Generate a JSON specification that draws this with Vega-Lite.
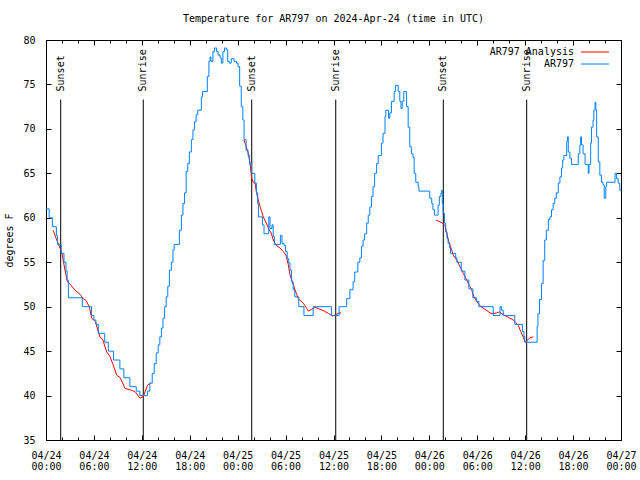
{
  "$schema": "https://vega.github.io/schema/vega-lite/v6.json",
  "width": 575,
  "height": 400,
  "autosize": "none",
  "padding": {"left": 46, "top": 40, "right": 19, "bottom": 40},
  "background": "white",
  "title": {"text": "Temperature for AR797 on 2024-Apr-24 (time in UTC)", "font": "DejaVu Sans Mono", "fontSize": 10, "fontWeight": "normal", "anchor": "middle", "offset": 11, "color": "black"},
  "datasets": {
    "obs": [
      {"h":0,"t":61},{"h":0.4,"t":60},{"h":0.8,"t":59},{"h":1.3,"t":58},{"h":1.45,"t":57},{"h":1.9,"t":56},{"h":2.25,"t":55},{"h":2.5,"t":54},{"h":2.65,"t":53},{"h":2.8,"t":51},{"h":4.55,"t":50},{"h":5.7,"t":49},{"h":6.0,"t":48.5},{"h":6.25,"t":48},{"h":6.55,"t":47},{"h":7.35,"t":46},{"h":7.8,"t":45},{"h":8.45,"t":44},{"h":9.25,"t":43},{"h":9.75,"t":42},{"h":10.5,"t":41},{"h":11.3,"t":40.5},{"h":11.75,"t":40},{"h":12.7,"t":40.5},{"h":13.0,"t":41.4},{"h":13.3,"t":42.5},{"h":13.55,"t":43.6},{"h":13.8,"t":44.8},{"h":14.05,"t":45.7},{"h":14.25,"t":46.6},{"h":14.45,"t":47.6},{"h":14.65,"t":48.7},{"h":14.85,"t":50},{"h":15.05,"t":51.1},{"h":15.25,"t":52.3},{"h":15.45,"t":54.1},{"h":15.7,"t":55},{"h":15.9,"t":56.4},{"h":16.05,"t":57},{"h":16.7,"t":58.6},{"h":16.95,"t":60.3},{"h":17.15,"t":61.6},{"h":17.35,"t":62.8},{"h":17.55,"t":65.2},{"h":17.75,"t":66.1},{"h":17.95,"t":67.4},{"h":18.2,"t":68.8},{"h":18.4,"t":69.9},{"h":18.6,"t":70.8},{"h":18.8,"t":71.6},{"h":19.0,"t":72.1},{"h":19.45,"t":73.6},{"h":19.6,"t":74.2},{"h":20.2,"t":75.9},{"h":20.4,"t":77.6},{"h":20.55,"t":78.1},{"h":20.65,"t":77.6},{"h":20.9,"t":78.7},{"h":21.1,"t":79.1},{"h":21.35,"t":78.7},{"h":21.55,"t":78.3},{"h":21.8,"t":78},{"h":21.95,"t":77.4},{"h":22.15,"t":78.7},{"h":22.35,"t":79.1},{"h":22.6,"t":78.9},{"h":22.75,"t":77.6},{"h":22.95,"t":77.4},{"h":23.2,"t":77.9},{"h":23.55,"t":77.6},{"h":23.85,"t":77.4},{"h":24.05,"t":77},{"h":24.25,"t":74.8},{"h":24.45,"t":72.5},{"h":24.65,"t":71},{"h":24.8,"t":68.8},{"h":25.05,"t":67.6},{"h":25.3,"t":67},{"h":25.5,"t":66.1},{"h":25.75,"t":65},{"h":26.15,"t":63.9},{"h":26.35,"t":62.8},{"h":26.5,"t":61.6},{"h":26.6,"t":60.1},{"h":27.1,"t":59.2},{"h":27.3,"t":58.2},{"h":27.9,"t":60.1},{"h":28.05,"t":58.8},{"h":28.3,"t":59.2},{"h":28.45,"t":57.9},{"h":28.6,"t":57},{"h":29.35,"t":58},{"h":29.55,"t":57.1},{"h":29.8,"t":56.9},{"h":30.0,"t":56.2},{"h":30.2,"t":55.4},{"h":30.4,"t":54.9},{"h":30.55,"t":54.1},{"h":30.75,"t":52.8},{"h":30.95,"t":51.9},{"h":31.15,"t":51.1},{"h":31.65,"t":50},{"h":32.3,"t":49},{"h":33.45,"t":50},{"h":35.75,"t":49},{"h":36.7,"t":50},{"h":37.65,"t":50.9},{"h":38.05,"t":51.9},{"h":38.45,"t":52.8},{"h":38.65,"t":53.9},{"h":39.05,"t":55},{"h":39.3,"t":55.5},{"h":39.5,"t":56.8},{"h":39.7,"t":57.5},{"h":39.9,"t":58.2},{"h":40.15,"t":59.4},{"h":40.35,"t":60.3},{"h":40.55,"t":61.2},{"h":40.75,"t":62.4},{"h":40.95,"t":63.5},{"h":41.15,"t":65},{"h":41.4,"t":66.1},{"h":41.6,"t":67},{"h":42.0,"t":68.4},{"h":42.2,"t":69.5},{"h":42.45,"t":71.4},{"h":42.55,"t":72.1},{"h":42.9,"t":71.2},{"h":43.05,"t":71.8},{"h":43.25,"t":73.1},{"h":43.6,"t":74.2},{"h":43.75,"t":74.9},{"h":44.1,"t":74.2},{"h":44.3,"t":73.1},{"h":44.45,"t":72.3},{"h":44.6,"t":73.1},{"h":44.8,"t":74.2},{"h":45.15,"t":72.5},{"h":45.35,"t":70.2},{"h":45.55,"t":68},{"h":45.75,"t":67.2},{"h":45.95,"t":66.8},{"h":46.1,"t":65},{"h":46.3,"t":64},{"h":46.6,"t":63.5},{"h":46.7,"t":63},{"h":48.05,"t":62.2},{"h":48.3,"t":61.6},{"h":48.45,"t":60.9},{"h":48.65,"t":60.3},{"h":49.1,"t":61.4},{"h":49.25,"t":62.4},{"h":49.45,"t":62.8},{"h":49.55,"t":63.1},{"h":49.62,"t":61.6},{"h":49.72,"t":60.5},{"h":49.9,"t":59.4},{"h":50.05,"t":58.4},{"h":50.2,"t":57.7},{"h":50.35,"t":57.1},{"h":50.55,"t":56.6},{"h":50.65,"t":56},{"h":51.3,"t":55.5},{"h":51.45,"t":55},{"h":52.0,"t":54},{"h":52.45,"t":53},{"h":52.95,"t":52},{"h":53.45,"t":51},{"h":53.9,"t":50.6},{"h":54.2,"t":50},{"h":56.0,"t":49},{"h":56.85,"t":50},{"h":57.05,"t":49.6},{"h":57.25,"t":49},{"h":58.7,"t":48},{"h":59.65,"t":47.2},{"h":59.85,"t":46.6},{"h":59.95,"t":46},{"h":61.5,"t":47.8},{"h":61.6,"t":49.2},{"h":61.8,"t":50.8},{"h":62.05,"t":52.6},{"h":62.25,"t":55.2},{"h":62.45,"t":57.5},{"h":62.65,"t":58.6},{"h":62.9,"t":59.8},{"h":63.1,"t":60.1},{"h":63.3,"t":60.9},{"h":63.5,"t":61.6},{"h":63.7,"t":62.2},{"h":63.9,"t":62.8},{"h":64.15,"t":63.9},{"h":64.35,"t":64.6},{"h":64.55,"t":65.6},{"h":64.7,"t":66.5},{"h":64.85,"t":67},{"h":65.2,"t":68.6},{"h":65.3,"t":69.1},{"h":65.4,"t":67.4},{"h":65.6,"t":66.7},{"h":65.8,"t":66},{"h":66.65,"t":67.2},{"h":66.85,"t":68.2},{"h":66.95,"t":69.1},{"h":67.05,"t":68.2},{"h":67.25,"t":67.2},{"h":67.5,"t":66},{"h":67.9,"t":65},{"h":68.0,"t":66},{"h":68.2,"t":68.4},{"h":68.3,"t":70.2},{"h":68.5,"t":71},{"h":68.6,"t":72.1},{"h":68.75,"t":73},{"h":68.85,"t":72.1},{"h":68.95,"t":69.1},{"h":69.15,"t":66.3},{"h":69.35,"t":64.8},{"h":69.55,"t":64},{"h":69.75,"t":63.7},{"h":69.9,"t":62.2},{"h":70.1,"t":63.5},{"h":70.2,"t":64},{"h":71.25,"t":65},{"h":71.45,"t":64.4},{"h":71.65,"t":63.9},{"h":71.85,"t":63.1},{"h":72,"t":63}
    ],
    "ana": [
      {"n":1,"h":0.91,"t":58.6},{"n":1,"h":1.3,"t":57.6},{"n":1,"h":1.75,"t":56.6},{"n":1,"h":2.0,"t":56},{"n":1,"h":2.38,"t":54.1},{"n":1,"h":2.67,"t":52.8},{"n":1,"h":3.0,"t":52.55},{"n":1,"h":3.4,"t":52.1},{"n":1,"h":3.76,"t":51.75},{"n":1,"h":4.26,"t":51.4},{"n":1,"h":4.67,"t":50.9},{"n":1,"h":5.0,"t":50.7},{"n":1,"h":5.42,"t":50},{"n":1,"h":5.72,"t":48.7},{"n":1,"h":6.2,"t":48.3},{"n":1,"h":6.76,"t":46.55},{"n":1,"h":7.1,"t":46.3},{"n":1,"h":7.6,"t":44.9},{"n":1,"h":8.01,"t":44.4},{"n":1,"h":8.43,"t":43.4},{"n":1,"h":8.85,"t":42.3},{"n":1,"h":9.3,"t":42.0},{"n":1,"h":9.89,"t":40.8},{"n":1,"h":10.73,"t":40.6},{"n":1,"h":11.2,"t":40.4},{"n":1,"h":11.77,"t":39.7},{"n":1,"h":12.18,"t":39.9},{"n":1,"h":12.4,"t":40.4},{"n":1,"h":12.73,"t":41.2},{"n":1,"h":13.11,"t":41.4},
      {"n":2,"h":24.79,"t":68.75},{"n":2,"h":25.0,"t":68.2},{"n":2,"h":25.33,"t":67.25},{"n":2,"h":25.55,"t":66.1},{"n":2,"h":25.76,"t":64.4},{"n":2,"h":25.95,"t":64.0},{"n":2,"h":26.17,"t":63.9},{"n":2,"h":26.38,"t":62.75},{"n":2,"h":26.58,"t":62},{"n":2,"h":26.8,"t":61.25},{"n":2,"h":27.0,"t":60.7},{"n":2,"h":27.21,"t":60.1},{"n":2,"h":27.64,"t":59.3},{"n":2,"h":27.96,"t":58.6},{"n":2,"h":28.2,"t":58.3},{"n":2,"h":28.46,"t":57.5},{"n":2,"h":28.8,"t":56.9},{"n":2,"h":29.3,"t":56.6},{"n":2,"h":29.71,"t":56.2},{"n":2,"h":30.05,"t":55.8},{"n":2,"h":30.34,"t":54.7},{"n":2,"h":30.55,"t":53.6},{"n":2,"h":30.77,"t":53},{"n":2,"h":31.18,"t":51.9},{"n":2,"h":31.59,"t":50.9},{"n":2,"h":32.22,"t":50.4},{"n":2,"h":32.64,"t":49.8},{"n":2,"h":32.85,"t":49.5},{"n":2,"h":33.27,"t":49.7},{"n":2,"h":33.68,"t":49.9},{"n":2,"h":34.1,"t":49.8},{"n":2,"h":34.72,"t":49.55},{"n":2,"h":35.35,"t":49.25},{"n":2,"h":35.9,"t":48.95},{"n":2,"h":36.19,"t":49.06},{"n":2,"h":36.6,"t":49.25},{"n":2,"h":36.94,"t":49.3},
      {"n":3,"h":48.83,"t":59.75},{"n":3,"h":49.67,"t":59.4},{"n":3,"h":49.96,"t":59.1},{"n":3,"h":50.17,"t":58.4},{"n":3,"h":50.38,"t":57.5},{"n":3,"h":50.59,"t":56.9},{"n":3,"h":50.8,"t":56.4},{"n":3,"h":51.0,"t":55.8},{"n":3,"h":51.43,"t":55.25},{"n":3,"h":51.84,"t":54.5},{"n":3,"h":52.25,"t":53.75},{"n":3,"h":52.68,"t":53},{"n":3,"h":53.0,"t":52.4},{"n":3,"h":53.3,"t":51.9},{"n":3,"h":53.59,"t":51.1},{"n":3,"h":53.93,"t":50.6},{"n":3,"h":54.34,"t":50.1},{"n":3,"h":54.97,"t":49.7},{"n":3,"h":55.6,"t":49.3},{"n":3,"h":56.01,"t":49.2},{"n":3,"h":56.44,"t":49.3},{"n":3,"h":56.76,"t":49.4},{"n":3,"h":57.35,"t":49.06},{"n":3,"h":57.89,"t":48.8},{"n":3,"h":58.52,"t":48.5},{"n":3,"h":58.85,"t":48.2},{"n":3,"h":59.14,"t":47.9},{"n":3,"h":59.44,"t":47.2},{"n":3,"h":59.77,"t":46.55},{"n":3,"h":59.98,"t":46.06},{"n":3,"h":60.39,"t":46.3},{"n":3,"h":60.61,"t":46.5},{"n":3,"h":61.02,"t":46.6}
    ],
    "sun": [
      {"h":1.84,"label":"Sunset"},{"h":12.18,"label":"Sunrise"},{"h":25.76,"label":"Sunset"},{"h":36.28,"label":"Sunrise"},{"h":49.75,"label":"Sunset"},{"h":60.19,"label":"Sunrise"}
    ]
  },
  "layer": [
    {
      "data": {"name": "sun"},
      "mark": {"type": "rule", "color": "black", "strokeWidth": 1},
      "encoding": {
        "x": {"field": "h", "type": "quantitative", "scale": {"domain": [0, 72], "nice": false, "zero": false}, "axis": null},
        "y": {"datum": 73.3, "type": "quantitative", "scale": {"domain": [35, 80], "nice": false, "zero": false}, "axis": null},
        "y2": {"datum": 35}
      }
    },
    {
      "data": {"name": "sun"},
      "mark": {"type": "text", "angle": 270, "align": "left", "baseline": "middle", "dx": 1, "font": "DejaVu Sans Mono", "fontSize": 10, "color": "black"},
      "encoding": {
        "x": {"field": "h", "type": "quantitative", "axis": null},
        "y": {"datum": 74.1, "type": "quantitative", "axis": null},
        "text": {"field": "label"}
      }
    },
    {
      "data": {"name": "ana"},
      "mark": {"type": "line", "strokeWidth": 1, "interpolate": "linear"},
      "encoding": {
        "x": {"field": "h", "type": "quantitative", "axis": {"orient": "top", "values": [0,2,4,6,8,10,12,14,16,18,20,22,24,26,28,30,32,34,36,38,40,42,44,46,48,50,52,54,56,58,60,62,64,66,68,70,72], "labels": false, "title": null, "tickSize": {"condition": {"test": "datum.value % 6 == 0", "value": -5}, "value": -3}}},
        "y": {"field": "t", "type": "quantitative", "axis": {"orient": "right", "values": [35,40,45,50,55,60,65,70,75,80], "labels": false, "title": null, "tickSize": -5}},
        "detail": {"field": "n"},
        "color": {"datum": "AR797 Analysis", "type": "nominal",
          "scale": {"domain": ["AR797 Analysis", "AR797"], "range": ["#ff0000", "#0080ff"]},
          "legend": {"orient": "none", "legendX": 544, "legendY": 7, "title": null, "symbolType": "M-5,0H5", "symbolSize": 31.36, "symbolStrokeWidth": 1, "labelAlign": "right", "labelOffset": -26, "labelFont": "DejaVu Sans Mono", "labelFontSize": 10, "labelColor": "black", "rowPadding": 2, "padding": 0}}
      }
    },
    {
      "data": {"name": "obs"},
      "mark": {"type": "line", "strokeWidth": 1, "interpolate": "step-after"},
      "encoding": {
        "x": {"field": "h", "type": "quantitative", "axis": {"orient": "bottom", "values": [0,2,4,6,8,10,12,14,16,18,20,22,24,26,28,30,32,34,36,38,40,42,44,46,48,50,52,54,56,58,60,62,64,66,68,70,72], "title": null, "labelAngle": 0, "labelBaseline": "top", "labelLineHeight": 11, "labelOverlap": false, "labelFlush": false, "labelPadding": 15, "labelExpr": "datum.value % 6 == 0 ? ['04/' + (24 + floor(datum.value / 24)), (datum.value % 24 < 10 ? '0' : '') + (datum.value % 24) + ':00'] : ''", "tickSize": {"condition": {"test": "datum.value % 6 == 0", "value": -5}, "value": -3}}},
        "y": {"field": "t", "type": "quantitative", "axis": {"orient": "left", "values": [35,40,45,50,55,60,65,70,75,80], "title": "degrees F", "tickSize": -5, "labelPadding": 16, "titleX": -37, "titleY": 200, "titleBaseline": "middle", "titleAngle": -90}},
        "color": {"datum": "AR797", "type": "nominal"}
      }
    }
  ],
  "resolve": {"axis": {"x": "independent", "y": "independent"}},
  "config": {
    "font": "DejaVu Sans Mono",
    "view": {"stroke": "black", "strokeWidth": 1},
    "axis": {"labelFont": "DejaVu Sans Mono", "labelFontSize": 10, "labelColor": "black", "titleFont": "DejaVu Sans Mono", "titleFontSize": 10, "titleFontWeight": "normal", "titleColor": "black", "grid": false, "domain": false, "tickColor": "black", "tickWidth": 1}
  }
}
